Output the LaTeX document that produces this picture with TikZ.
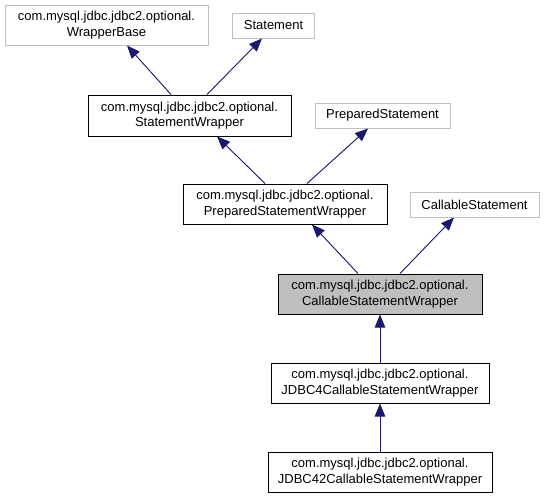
\documentclass[tikz,border=0pt]{standalone}
\usepackage{fontspec}
\setmainfont{Liberation Sans}
\usetikzlibrary{arrows.meta}
\definecolor{edgeblue}{HTML}{191970}
\definecolor{grayline}{HTML}{BFBFBF}
\definecolor{grayfill}{HTML}{BFBFBF}
\tikzset{
  cls/.style={draw=black, line width=1pt, fill=white, inner sep=0pt, align=center,
    font=\fontsize{13}{15.5}\selectfont},
  ext/.style={draw=grayline, line width=1pt, fill=white, inner sep=0pt, align=center,
    font=\fontsize{13}{15.5}\selectfont},
  cur/.style={cls, fill=grayfill},
  inh/.style={draw=edgeblue, line width=0.9pt, -{Triangle[length=13pt,width=10.5pt]}, fill=edgeblue}
}
\begin{document}
\begin{tikzpicture}[x=1pt,y=-1pt]
\useasboundingbox (0,0) rectangle (544,499);
\node[ext, minimum width=203pt, minimum height=40pt] (wb) at (106.5,25) {com.mysql.jdbc.jdbc2.optional.\\WrapperBase};
\node[ext, minimum width=82pt, minimum height=25pt] (st) at (273.5,25.5) {Statement};
\node[cls, minimum width=203pt, minimum height=41pt] (sw) at (189.5,115.5) {com.mysql.jdbc.jdbc2.optional.\\StatementWrapper};
\node[ext, minimum width=135pt, minimum height=25pt] (ps) at (382.5,115.5) {PreparedStatement};
\node[cls, minimum width=204pt, minimum height=40pt] (psw) at (285,204) {com.mysql.jdbc.jdbc2.optional.\\PreparedStatementWrapper};
\node[ext, minimum width=129pt, minimum height=25pt] (cs) at (474.5,204.5) {CallableStatement};
\node[cur, minimum width=204pt, minimum height=40pt] (csw) at (380,294) {com.mysql.jdbc.jdbc2.optional.\\CallableStatementWrapper};
\node[cls, minimum width=218pt, minimum height=40pt] (j4) at (380,383) {com.mysql.jdbc.jdbc2.optional.\\JDBC4CallableStatementWrapper};
\node[cls, minimum width=224pt, minimum height=40pt] (j42) at (380,472) {com.mysql.jdbc.jdbc2.optional.\\JDBC42CallableStatementWrapper};
\draw[inh] ([xshift=-18.5pt]sw.north) -- ([xshift=20.5pt]wb.south);
\draw[inh] ([xshift=17.5pt]sw.north) -- ([xshift=-11.5pt]st.south);
\draw[inh] ([xshift=-20pt]psw.north) -- ([xshift=27.5pt]sw.south);
\draw[inh] ([xshift=22pt]psw.north) -- ([xshift=-14.5pt]ps.south);
\draw[inh] ([xshift=-22pt]csw.north) -- ([xshift=27pt]psw.south);
\draw[inh] ([xshift=20pt]csw.north) -- ([xshift=-20.5pt]cs.south);
\draw[inh] (j4.north) -- (csw.south);
\draw[inh] (j42.north) -- (j4.south);
\end{tikzpicture}
\end{document}
